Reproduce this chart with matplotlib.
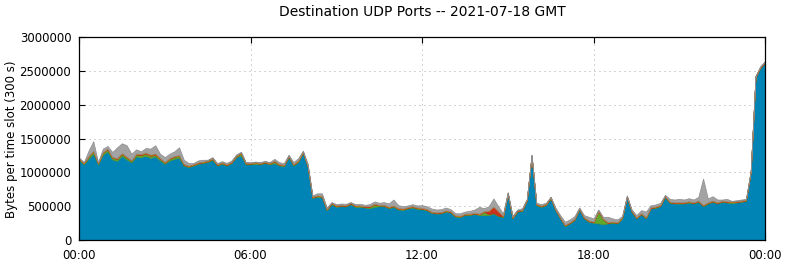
import numpy as np
import matplotlib
matplotlib.use("Agg")
import matplotlib.pyplot as plt

# ---- data (values in thousands of bytes per 300 s slot), one value per 10 minutes ----
slot_minutes = 10
blue = [1180, 1120, 1200, 1275, 1120, 1260, 1310, 1190, 1170, 1245, 1190, 1150,
        1235, 1225, 1245, 1215, 1235, 1176, 1127, 1176, 1200, 1215, 1100, 1078,
        1100, 1127, 1137, 1152, 1186, 1100, 1127, 1100, 1137, 1225, 1250, 1118,
        1118, 1127, 1118, 1137, 1118, 1137, 1103, 1090, 1225, 1103, 1152, 1290,
        1080, 620, 640, 630, 440, 530, 490, 500, 495, 530, 490, 490,
        480, 470, 490, 500, 500, 470, 490, 450, 445, 466, 480, 460,
        455, 440, 400, 390, 395, 420, 405, 345, 340, 370, 370, 385,
        370, 370, 368, 392, 353, 340, 680, 320, 420, 430, 580, 1235,
        515, 490, 515, 613, 441, 319, 206, 245, 294, 451, 319, 270,
        255, 245, 235, 245, 255, 245, 319, 628, 417, 319, 380, 320,
        466, 475, 500, 637, 549, 539, 539, 539, 554, 539, 564, 500,
        539, 564, 539, 564, 554, 549, 554, 564, 578, 1000, 2400, 2540,
        2620]
green = [15, 10, 30, 35, 10, 30, 30, 25, 30, 30, 30, 20,
         30, 30, 30, 30, 25, 25, 15, 25, 30, 30, 12, 10,
         10, 10, 10, 12, 12, 10, 10, 10, 10, 12, 30, 12,
         10, 10, 10, 10, 10, 25, 10, 10, 12, 10, 12, 10,
         10, 10, 10, 10, 10, 10, 10, 10, 10, 10, 10, 10,
         10, 20, 35, 10, 10, 10, 10, 10, 10, 10, 10, 10,
         8, 8, 8, 8, 8, 8, 8, 8, 8, 8, 8, 8,
         8, 45, 15, 8, 8, 8, 8, 8, 8, 8, 8, 8,
         8, 8, 8, 8, 8, 8, 8, 8, 8, 8, 8, 8,
         8, 180, 70, 8, 8, 8, 8, 8, 8, 8, 8, 8,
         8, 8, 8, 8, 8, 8, 8, 8, 8, 8, 8, 8,
         8, 8, 8, 8, 8, 8, 8, 8, 8, 8, 8, 8,
         8]
red = [5] * 13 + [8, 8, 8, 8] + [5] * 69 + [45, 90, 60] + [5] * 56
orange = [8] * 13 + [12, 12, 12, 12] + [8] * 128
gray = [12, 7, 77, 137, 7, 47, 37, 72, 157, 142, 167, 92,
        62, 35, 65, 85, 120, 61, 70, 61, 67, 112, 61, 36,
        14, 26, 26, 9, 14, 14, 15, 17, 16, 15, 12, 9,
        9, 10, 9, 10, 9, 25, 24, 24, 10, 26, 33, 7,
        27, 17, 27, 37, 17, 7, 17, 17, 17, 7, 17, 22,
        17, 27, 32, 27, 37, 47, 85, 42, 32, 21, 26, 27,
        39, 39, 44, 39, 39, 39, 29, 29, 34, 29, 39, 44,
        99, 42, 64, 115, 71, 29, 4, 19, 9, 19, 9, 4,
        14, 19, 14, 6, 18, 28, 43, 38, 38, 8, 28, 52,
        43, 13, 25, 77, 43, 38, 13, 11, 13, 28, 40, 79,
        28, 29, 28, 8, 38, 38, 48, 38, 43, 38, 52, 386,
        53, 62, 38, 13, 33, 8, 13, 13, 9, 9, 5, 5,
        5]
xtick_hours = [0, 6, 12, 18, 24]
xtick_labels = ["00:00", "06:00", "12:00", "18:00", "00:00"]
ytick_values = [0, 500000, 1000000, 1500000, 2000000, 2500000, 3000000]

layers = [blue, green, red, orange, gray]
face_colors = ["#0084b5", "#5fa82c", "#c8321e", "#e08214", "#a3a3a3"]
edge_colors = ["#00729f", "#55992a", "#b02c1a", "#c87414", "#8c8c8c"]

hours = np.arange(len(blue)) * slot_minutes / 60.0
values = [np.array(v, dtype=float) * 1000.0 for v in layers]

fig = plt.figure(figsize=(7.85, 2.64), dpi=100)
ax = fig.add_axes([79 / 785, 1 - 240 / 264, (765 - 79) / 785, (240 - 37) / 264])

polys = ax.stackplot(hours, *values, colors=face_colors, linewidth=0.5)
for p, ec in zip(polys, edge_colors):
    p.set_edgecolor(ec)

ax.set_xlim(0, 24)
ax.set_ylim(0, 3000000)
ax.set_xticks(xtick_hours)
ax.set_xticklabels(xtick_labels)
ax.set_yticks(ytick_values)
ax.set_yticklabels([str(v) for v in ytick_values])
ax.set_axisbelow(True)
ax.grid(True, color="#a8a8a8", linewidth=0.72, linestyle=(0, (1, 4)))
ax.tick_params(axis="both", direction="in", length=4, width=0.8, labelsize=8.5,
               colors="black")
ax.tick_params(axis="x", top=True, pad=6.5)
ax.tick_params(axis="y", right=False, pad=5.5)
for s in ax.spines.values():
    s.set_linewidth(0.9)
    s.set_color("black")
    s.set_zorder(5)

fig.text(422 / 785, 1 - 12 / 264, "Destination UDP Ports -- 2021-07-18 GMT",
         ha="center", va="center", fontsize=10)
fig.text(12 / 785, 1 - 139 / 264, "Bytes per time slot (300 s)", rotation=90,
         ha="center", va="center", fontsize=8.5)

fig.savefig("out.png", dpi=100)
